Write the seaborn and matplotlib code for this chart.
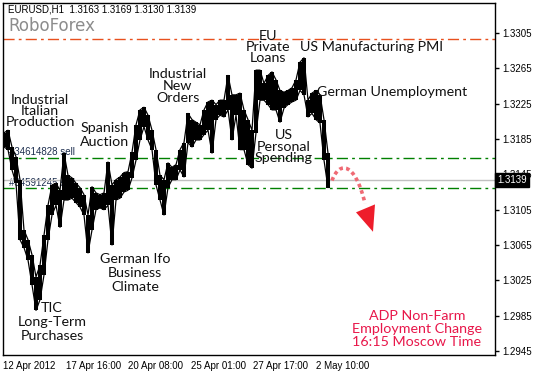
import numpy as np
import pandas as pd
import seaborn as sns
import matplotlib.pyplot as plt
from matplotlib.path import Path
from matplotlib.patches import PathPatch, Polygon
import matplotlib.transforms as mtransforms

# EURUSD H1 in blocks of 4 hourly candles
bar_high = [1.3192, 1.3195, 1.3176, 1.3165, 1.3139, 1.3082, 1.3071, 1.3054, 1.3029, 1.3042,
            1.3076, 1.3110, 1.3133, 1.3135, 1.3127, 1.3169, 1.3144, 1.3141, 1.3135, 1.3130,
            1.3122, 1.3099, 1.3131, 1.3124, 1.3122, 1.3124, 1.3159, 1.3133, 1.3139, 1.3142,
            1.3147, 1.3148, 1.3170, 1.3201, 1.3218, 1.3221, 1.3212, 1.3195, 1.3173, 1.3144,
            1.3139, 1.3158, 1.3153, 1.3156, 1.3173, 1.3181, 1.3214, 1.3207, 1.3204, 1.3201,
            1.3218, 1.3227, 1.3229, 1.3224, 1.3229, 1.3229, 1.3257, 1.3235, 1.3235, 1.3237,
            1.3218, 1.3207, 1.3195, 1.3263, 1.3263, 1.3248, 1.3257, 1.3261, 1.3252, 1.3240,
            1.3238, 1.3240, 1.3243, 1.3252, 1.3272, 1.3277, 1.3229, 1.3237, 1.3240, 1.3235,
            1.3207, 1.3169]
bar_low = [1.3176, 1.3173, 1.3150, 1.3135, 1.3071, 1.3062, 1.3048, 1.3020, 1.2991, 1.3003,
           1.3031, 1.3071, 1.3099, 1.3110, 1.3085, 1.3116, 1.3116, 1.3118, 1.3113, 1.3108,
           1.3099, 1.3056, 1.3082, 1.3105, 1.3107, 1.3105, 1.3110, 1.3065, 1.3116, 1.3118,
           1.3125, 1.3127, 1.3141, 1.3161, 1.3184, 1.3199, 1.3184, 1.3173, 1.3133, 1.3116,
           1.3099, 1.3130, 1.3139, 1.3139, 1.3150, 1.3142, 1.3181, 1.3176, 1.3184, 1.3184,
           1.3190, 1.3195, 1.3169, 1.3207, 1.3212, 1.3210, 1.3218, 1.3184, 1.3212, 1.3173,
           1.3173, 1.3156, 1.3152, 1.3192, 1.3229, 1.3229, 1.3224, 1.3218, 1.3218, 1.3204,
           1.3220, 1.3224, 1.3227, 1.3229, 1.3240, 1.3235, 1.3210, 1.3214, 1.3207, 1.3203,
           1.3161, 1.3130]
hours_per_block = 4

tick_hours = [0, 63, 125, 188, 250, 313]
tick_labels = ["12 Apr 2012", "17 Apr 16:00", "20 Apr 08:00",
               "25 Apr 01:00", "27 Apr 17:00", "2 May 10:00"]
price_ticks = [1.3305, 1.3265, 1.3225, 1.3185, 1.3145, 1.3105, 1.3065, 1.3025, 1.2985, 1.2945]

header = "EURUSD,H1  1.3163 1.3169 1.3130 1.3139"
bid = 1.3139
resistance = 1.3298
order_levels = [1.3164, 1.3129]
order_labels = ["#34614828 sell", "#34591245 sell"]

# news: text, hour, price, alignment, line spacing
news_text = ["Industrial\nItalian\nProduction", "Spanish\nAuction", "Industrial\nNew\nOrders",
             "German Ifo\nBusiness\nClimate", "TIC\nLong-Term\nPurchases", "EU\nPrivate\nLoans",
             "US Manufacturing PMI", "German Unemployment", "US\nPersonal\nSpending"]
news_hour = [37, 102, 175, 132, 49, 265, 297, 314, 281]
news_price = [1.3217, 1.3190, 1.3245, 1.3033, 1.2978, 1.3289, 1.3289, 1.3238, 1.3176]
news_ha = ["center"] * 6 + ["left", "left", "center"]
news_spacing = [0.92, 1.2, 1.0, 1.2, 1.17, 0.92, 1, 1, 0.95]

adp_text = "ADP Non-Farm\nEmployment Change\n16:15 Moscow Time"
adp_hour, adp_price = 414, 1.2970

df = pd.DataFrame({"hour": np.arange(len(bar_high)) * hours_per_block + 1,
                   "high": bar_high, "low": bar_low})

sns.set_style("white")
plt.rcParams["font.family"] = ["Lato", "DejaVu Sans"]

fig = plt.figure(figsize=(5.35, 3.74), dpi=100)
ax = fig.add_axes([3 / 535, 1 - 355 / 374, 492 / 535, 352 / 374])
ax.set_xlim(0, 492)
ax.set_ylim(1.29405, 1.33390)

# candles
ax.vlines(df["hour"], df["low"], df["high"], color="black", lw=2.9, zorder=3)
sns.lineplot(data=df, x="hour", y="high", color="black", lw=0.9, ax=ax, zorder=3)
sns.lineplot(data=df, x="hour", y="low", color="black", lw=0.9, ax=ax, zorder=3)

# levels
ax.axhline(resistance, color="#e8501e", lw=1.0, dashes=(8, 3, 2, 3), zorder=2)
for lvl, lab in zip(order_levels, order_labels):
    ax.axhline(lvl, color="#008000", lw=1.0, dashes=(8, 3, 2, 3), zorder=2)
    ax.text(6, lvl + 0.0001, lab, fontsize=7, color="#1f3050", va="bottom", ha="left",
            family="Liberation Sans", zorder=1)
ax.axhline(bid, color="#c0c0c0", lw=1.0, zorder=1)

# news labels
for txt, h, p, ha, ls in zip(news_text, news_hour, news_price, news_ha, news_spacing):
    ax.text(h, p, txt, fontsize=10.3, color="#111111", ha=ha, va="center",
            multialignment="center", linespacing=ls, zorder=5)
ax.text(adp_hour, adp_price, adp_text, fontsize=10.3, color="#e8174a", ha="center",
        va="center", multialignment="center", linespacing=1.08, zorder=5)

# forecast arrow
curve = Path([(329, 1.3138), (336, 1.3160), (352, 1.3160), (362, 1.3112)],
             [Path.MOVETO, Path.CURVE4, Path.CURVE4, Path.CURVE4])
ax.add_patch(PathPatch(curve, fill=False, edgecolor="#ef6a74", lw=2.6,
                       linestyle=(0, (1, 0.9)), capstyle="butt", zorder=4))
ax.add_patch(Polygon([(353, 1.3102), (372, 1.3111), (370, 1.3080)], closed=True,
                     facecolor="#ee1d2b", edgecolor="none", zorder=4))

# axes look
for s in ax.spines.values():
    s.set_color("black")
    s.set_linewidth(1.0)
ax.set_xlabel("")
ax.set_ylabel("")
ax.set_xticks(tick_hours)
ax.set_xticklabels(tick_labels, ha="left", family="Liberation Sans", fontsize=7)
ax.yaxis.tick_right()
ax.set_yticks(price_ticks)
ax.set_yticklabels([f"{v:.4f}" for v in price_ticks], family="Liberation Sans", fontsize=7)
ax.tick_params(axis="both", direction="out", length=3, width=1, color="black", pad=2,
               labelcolor="black")
ax.tick_params(axis="x", pad=1)

trans = mtransforms.blended_transform_factory(ax.transAxes, ax.transData)
ax.text(1.004, bid, f"{bid:.4f}", transform=trans, fontsize=7, family="Liberation Sans",
        color="white", va="center", ha="left", zorder=10, clip_on=False,
        bbox=dict(boxstyle="square,pad=0.2", facecolor="black", edgecolor="black"))

fig.text(8 / 535, 1 - 10 / 374, header, fontsize=7, family="Liberation Sans",
         va="center", ha="left", color="black")
fig.text(8 / 535, 1 - 26 / 374, "RoboForex", fontsize=12, family="DejaVu Sans",
         va="center", ha="left", color="#8c8c8c")

fig.savefig("out.png", dpi=100)
